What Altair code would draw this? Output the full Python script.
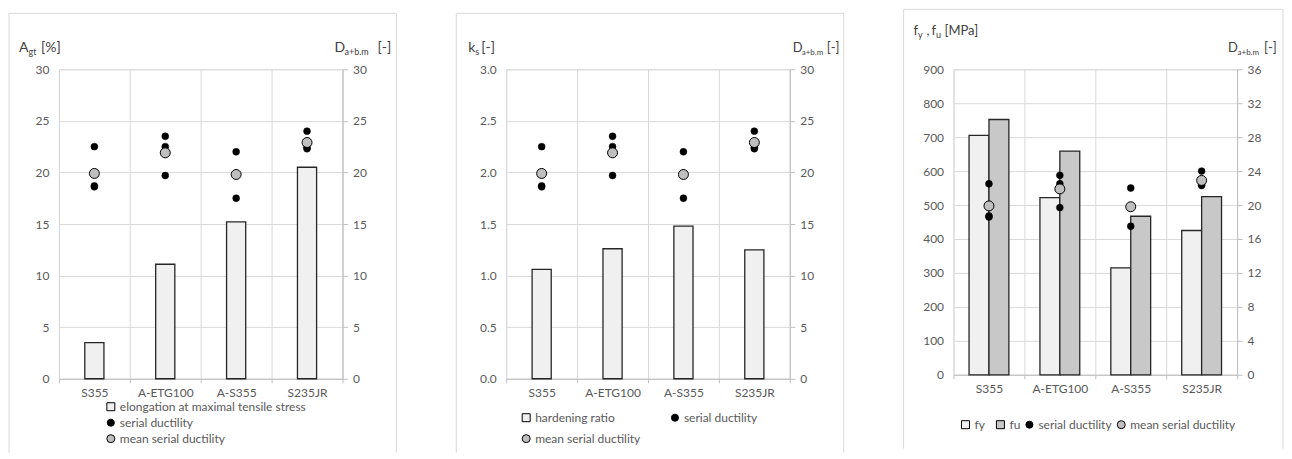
import altair as alt
import pandas as pd

# ---------------- data ----------------
cats = ["S355", "A-ETG100", "A-S355", "S235JR"]
agt = [3.5, 11.1, 15.2, 20.5]          # A_gt [%]
ks = [1.06, 1.26, 1.48, 1.25]          # hardening ratio [-]
fy = [705, 522, 315, 425]              # MPa
fu = [752, 659, 467, 525]              # MPa
duct_1 = [22.5, 23.5, 22.0, 24.0]
duct_2 = [18.6, 22.5, 17.5, 22.3]
duct_3 = [18.7, 19.7, 19.9, 22.4]
duct_mean = [19.9, 21.9, 19.8, 22.9]

FONT = "Lato"
LABEL_C = "#595959"
TITLE_C = "#404040"
GRID_C = "#d9d9d9"
AXIS_C = "#bfbfbf"
FRAME_C = "#d9d9d9"
FY_FILL = "#f0f0f0"
FU_FILL = "#c8c8c8"
MEAN_FILL = "#bfbfbf"
BAR_STROKE = "#262626"

W = 284
SER = "serial ductility"
MEAN = "mean serial ductility"

serial_df = pd.DataFrame({
    "cat": cats * 3,
    "value": duct_1 + duct_2 + duct_3,
    "series": [SER] * 12,
})
mean_df = pd.DataFrame({"cat": cats, "value": duct_mean, "series": [MEAN] * 4})


def x_enc():
    return alt.X(
        "cat:N", sort=cats,
        scale=alt.Scale(domain=cats, paddingInner=0, paddingOuter=0),
        axis=alt.Axis(
            title=None, labelAngle=0, tickBand="extent", grid=True, gridColor=GRID_C,
            domain=True, domainColor=AXIS_C, ticks=True, tickColor=AXIS_C, tickSize=4,
            labels=True, labelPadding=5, labelFont=FONT, labelFontSize=12,
            labelColor=LABEL_C, orient="bottom",
        ),
    )


def frame(H, top, right):
    base = alt.Chart(alt.Data(values=[{}]))
    bottom = H + 74
    left_r = base.mark_rule(color=FRAME_C, strokeWidth=1).encode(
        x=alt.value(-50), y=alt.value(top), y2=alt.value(bottom))
    right_r = base.mark_rule(color=FRAME_C, strokeWidth=1).encode(
        x=alt.value(W + right), y=alt.value(top), y2=alt.value(bottom))
    top_r = base.mark_rule(color=FRAME_C, strokeWidth=1).encode(
        x=alt.value(-50), x2=alt.value(W + right), y=alt.value(top))
    return [left_r, right_r, top_r]


def texts(pieces):
    out = []
    for t, x, y, s in pieces:
        out.append(
            alt.Chart(alt.Data(values=[{}])).mark_text(
                text=t, align="left", baseline="alphabetic", font=FONT,
                fontSize=s, color=TITLE_C,
            ).encode(x=alt.value(x), y=alt.value(y))
        )
    return out


def legend(x, y, size, symbol="circle", columns=1, direction="vertical", colpad=9):
    return alt.Legend(
        title=None, orient="none", legendX=x, legendY=y, direction=direction,
        columns=columns, columnPadding=colpad, rowPadding=3, labelOffset=3,
        labelFont=FONT, labelFontSize=12, labelColor=LABEL_C, symbolSize=size,
        symbolType=symbol, symbolStrokeColor="black", symbolStrokeWidth=1,
        symbolOpacity=1, labelLimit=400,
    )


def duct_layers(rdom, rvals, ser_pos, mean_pos):
    yr = alt.Y("value:Q", scale=alt.Scale(domain=rdom, nice=False),
               axis=alt.Axis(orient="right", title=None, values=rvals, grid=False,
                             domain=True, domainColor=AXIS_C, ticks=True, tickSize=5,
                             tickColor=AXIS_C, labelPadding=5, labelFont=FONT,
                             labelFontSize=12, labelColor=LABEL_C))
    serial = alt.Chart(serial_df).mark_point(
        filled=True, size=48, opacity=1, stroke="black", strokeWidth=0.5
    ).encode(
        x=x_enc(),
        y=yr,
        fill=alt.Fill("series:N", scale=alt.Scale(domain=[SER], range=["black"]),
                      legend=legend(*ser_pos, size=50)),
    )
    mean = alt.Chart(mean_df).mark_point(
        filled=True, size=100, opacity=1, stroke="black", strokeWidth=1
    ).encode(
        x=x_enc(),
        y=alt.Y("value:Q", scale=alt.Scale(domain=rdom, nice=False), axis=None),
        fill=alt.Fill("series:N", scale=alt.Scale(domain=[MEAN], range=[MEAN_FILL]),
                      legend=legend(*mean_pos, size=64)),
    )
    return serial, mean


def left_axis(vals, fmt=None):
    kw = dict(title=None, values=vals, grid=True, gridColor=GRID_C, domain=False,
              ticks=False, labelPadding=10, labelFont=FONT, labelFontSize=12,
              labelColor=LABEL_C)
    if fmt:
        kw["format"] = fmt
    return alt.Axis(**kw)


def assemble(layers, H):
    return alt.layer(*layers).resolve_scale(
        y="independent", fill="independent"
    ).resolve_legend(fill="independent").properties(width=W, height=H)


# ---------------- panel 1 ----------------
H1 = 310
ELONG = "elongation at maximal tensile stress"
p1_bar_df = pd.DataFrame({"cat": cats, "value": agt, "series": [ELONG] * 4})
p1_bars = alt.Chart(p1_bar_df).mark_bar(
    width=alt.RelativeBandSize(0.27), stroke=BAR_STROKE, strokeWidth=1.3
).encode(
    x=x_enc(),
    y=alt.Y("value:Q", scale=alt.Scale(domain=[0, 30], nice=False),
            axis=left_axis([0, 5, 10, 15, 20, 25, 30])),
    fill=alt.Fill("series:N", scale=alt.Scale(domain=[ELONG], range=[FY_FILL]),
                  legend=legend(46, 332, 64, "square")),
)
s1, m1 = duct_layers([0, 30], [0, 5, 10, 15, 20, 25, 30], (46, 348), (46, 364))
t1 = texts([
    ("A", -40, -17, 14), ("gt", -30.5, -14, 9), ("[%]", -18, -17, 14),
    ("D", W - 8, -17, 14), ("a+b.m", W + 2, -14, 9), ("[-]", W + 35, -17, 14),
])
panel1 = assemble([*frame(H1, -56, 54), p1_bars, s1, m1, *t1], H1)

# ---------------- panel 2 ----------------
HARD = "hardening ratio"
p2_bar_df = pd.DataFrame({"cat": cats, "value": ks, "series": [HARD] * 4})
p2_bars = alt.Chart(p2_bar_df).mark_bar(
    width=alt.RelativeBandSize(0.27), stroke=BAR_STROKE, strokeWidth=1.3
).encode(
    x=x_enc(),
    y=alt.Y("value:Q", scale=alt.Scale(domain=[0, 3], nice=False),
            axis=left_axis([0, 0.5, 1.0, 1.5, 2.0, 2.5, 3.0], ".1f")),
    fill=alt.Fill("series:N", scale=alt.Scale(domain=[HARD], range=[FY_FILL]),
                  legend=legend(14, 343, 64, "square")),
)
s2, m2 = duct_layers([0, 30], [0, 5, 10, 15, 20, 25, 30], (163, 343), (14, 364))
t2 = texts([
    ("k", -38, -17, 14), ("s", -31, -14, 9), ("[-]", -25, -17, 14),
    ("D", W + 3, -17, 13), ("a+b.m", W + 12, -14, 8), ("[-]", W + 37, -17, 13),
])
panel2 = assemble([*frame(H1, -56, 54), p2_bars, s2, m2, *t2], H1)

# ---------------- panel 3 ----------------
H3 = 306
p3_bar_df = pd.DataFrame({
    "cat": cats * 2,
    "value": fy + fu,
    "series": ["fy"] * 4 + ["fu"] * 4,
})
p3_bars = alt.Chart(p3_bar_df).mark_bar(stroke=BAR_STROKE, strokeWidth=1.3).encode(
    x=x_enc(),
    xOffset=alt.XOffset("series:N", sort=["fy", "fu"],
                        scale=alt.Scale(domain=["fy", "fu"], paddingInner=0, paddingOuter=0.78)),
    y=alt.Y("value:Q", scale=alt.Scale(domain=[0, 900], nice=False),
            axis=left_axis(list(range(0, 901, 100)))),
    fill=alt.Fill("series:N", scale=alt.Scale(domain=["fy", "fu"], range=[FY_FILL, FU_FILL]),
                  legend=legend(6, 350, 64, "square", columns=2,
                                direction="horizontal", colpad=9)),
)
s3, m3 = duct_layers([0, 36], list(range(0, 37, 4)), (70, 350), (162, 350))
t3 = texts([
    ("f", -40, -34, 13), ("y", -35.5, -31, 9), (",", -27, -34, 13),
    ("f", -22, -34, 13), ("u", -17.5, -31, 9), ("[MPa]", -9, -34, 13),
    ("D", W - 9, -17, 13), ("a+b.m", W + 0.5, -14, 8), ("[-]", W + 27, -17, 13),
])
panel3 = assemble([*frame(H3, -60, 46), p3_bars, s3, m3, *t3], H3)

chart = alt.hconcat(panel1, panel2, panel3, spacing=58).resolve_scale(
    x="independent", fill="independent"
).resolve_legend(fill="independent").properties(
    padding=0
).configure_view(stroke=None).configure(background="white")

chart.save("out.html", embed_options={"renderer": "svg", "actions": False})
